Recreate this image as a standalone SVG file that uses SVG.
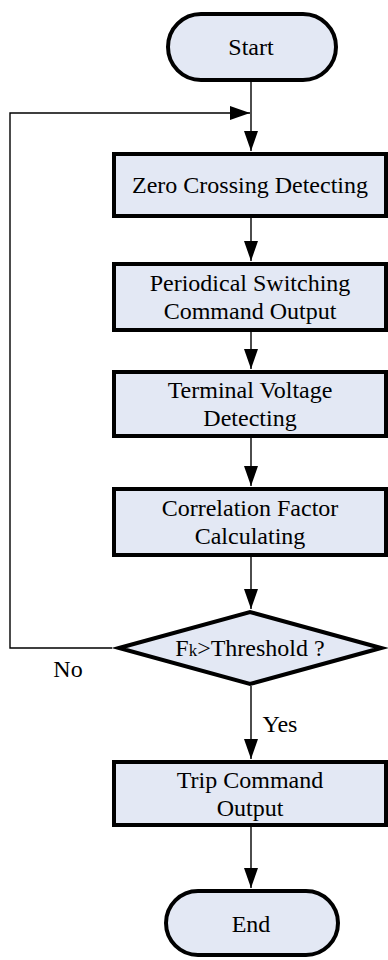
<svg xmlns="http://www.w3.org/2000/svg" width="388" height="960" viewBox="0 0 388 960">
  <style>
    .node { fill: #e3e8f4; stroke: #000; stroke-width: 4; }
    .lbl { font-family: 'Liberation Serif', 'DejaVu Serif', serif; font-size: 24px; fill: #000; text-anchor: middle; }
    .edge { fill: none; stroke: #000; stroke-width: 1.4; }
  </style>
  <defs>
    <marker id="arr" markerUnits="userSpaceOnUse" markerWidth="20" markerHeight="14" refX="20" refY="7" orient="auto">
      <path d="M0,0 L20,7 L0,14 Z" fill="#000"/>
    </marker>
  </defs>

  <rect width="388" height="960" fill="#fff"/>

  <!-- connectors -->
  <g id="connectors">
    <line class="edge" x1="251" y1="82" x2="251" y2="151" marker-end="url(#arr)"/>
    <polyline class="edge" points="112,648 10,648 10,113 250,113" marker-end="url(#arr)"/>
    <line class="edge" x1="251" y1="218" x2="251" y2="261" marker-end="url(#arr)"/>
    <line class="edge" x1="251" y1="332" x2="251" y2="369" marker-end="url(#arr)"/>
    <line class="edge" x1="251" y1="438" x2="251" y2="486" marker-end="url(#arr)"/>
    <line class="edge" x1="251" y1="557" x2="251" y2="609" marker-end="url(#arr)"/>
    <line class="edge" x1="251" y1="686" x2="251" y2="759" marker-end="url(#arr)"/>
    <line class="edge" x1="251" y1="827" x2="251" y2="888" marker-end="url(#arr)"/>
    <text class="lbl" font-family="Liberation Serif, serif" x="68" y="677">No</text>
    <text class="lbl" font-family="Liberation Serif, serif" x="280" y="732">Yes</text>
  </g>

  <g id="start">
    <rect class="node" x="168" y="14" width="168" height="66" rx="33" ry="33"/>
    <text class="lbl" font-family="Liberation Serif, serif" x="251" y="55">Start</text>
  </g>

  <g id="zero-crossing">
    <rect class="node" x="114" y="154" width="272" height="62"/>
    <text class="lbl" font-family="Liberation Serif, serif" x="250" y="193">Zero Crossing Detecting</text>
  </g>

  <g id="switching-output">
    <rect class="node" x="114" y="264" width="272" height="66"/>
    <text class="lbl" font-family="Liberation Serif, serif" x="250" y="291">Periodical Switching</text>
    <text class="lbl" font-family="Liberation Serif, serif" x="250" y="319">Command Output</text>
  </g>

  <g id="voltage-detecting">
    <rect class="node" x="114" y="372" width="272" height="64"/>
    <text class="lbl" font-family="Liberation Serif, serif" x="250" y="398">Terminal Voltage</text>
    <text class="lbl" font-family="Liberation Serif, serif" x="250" y="426">Detecting</text>
  </g>

  <g id="correlation">
    <rect class="node" x="114" y="489" width="272" height="66"/>
    <text class="lbl" font-family="Liberation Serif, serif" x="250" y="516">Correlation Factor</text>
    <text class="lbl" font-family="Liberation Serif, serif" x="250" y="544">Calculating</text>
  </g>

  <g id="threshold">
    <polygon class="node" points="119,648 250,612 381,648 250,684"/>
    <text class="lbl" font-family="Liberation Serif, serif" x="250" y="656">F<tspan font-size="17px">k</tspan>&gt;Threshold ?</text>
  </g>

  <g id="trip-output">
    <rect class="node" x="114" y="762" width="272" height="63"/>
    <text class="lbl" font-family="Liberation Serif, serif" x="250" y="788">Trip Command</text>
    <text class="lbl" font-family="Liberation Serif, serif" x="250" y="816">Output</text>
  </g>

  <g id="end">
    <rect class="node" x="166" y="891" width="172" height="64" rx="32" ry="32"/>
    <text class="lbl" font-family="Liberation Serif, serif" x="251" y="932">End</text>
  </g>
</svg>
